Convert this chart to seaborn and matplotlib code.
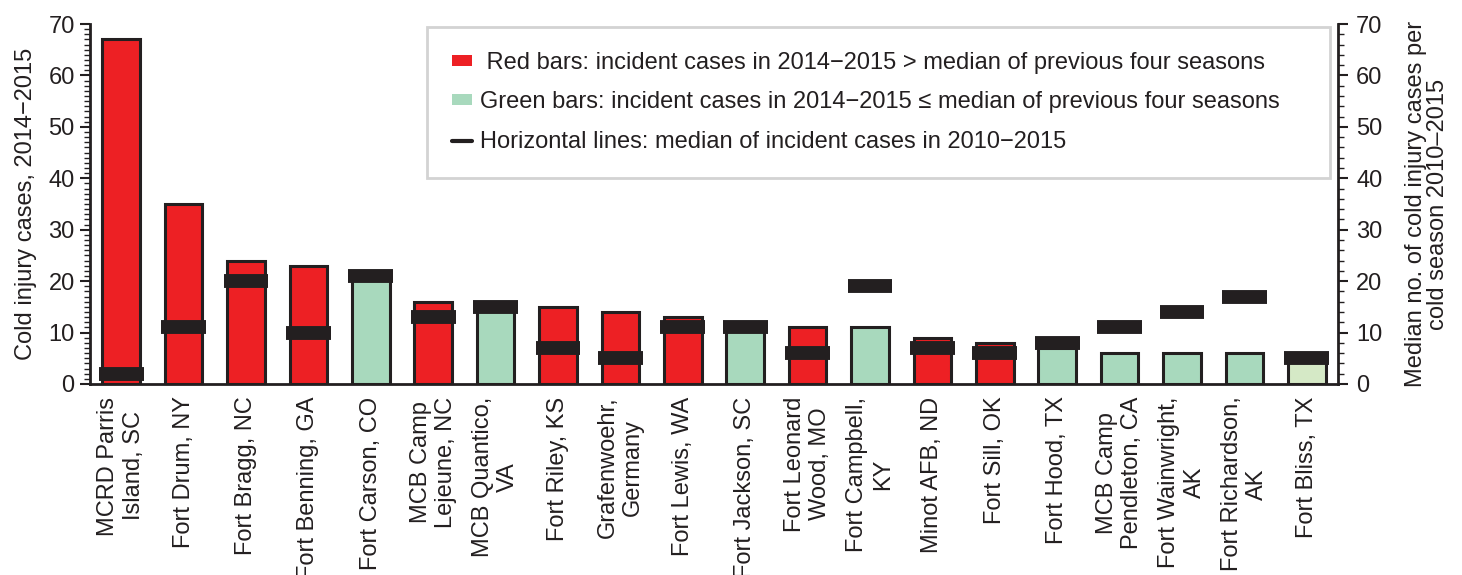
import numpy as np
import pandas as pd
import matplotlib
matplotlib.use('Agg')
import matplotlib.pyplot as plt
import seaborn as sns
from matplotlib.patches import Patch
from matplotlib.lines import Line2D
from matplotlib.ticker import MultipleLocator

# data
sites = ['MCRD Parris\nIsland, SC', 'Fort Drum, NY', 'Fort Bragg, NC', 'Fort Benning, GA',
         'Fort Carson, CO', 'MCB Camp\nLejeune, NC', 'MCB Quantico,\nVA', 'Fort Riley, KS',
         'Grafenwoehr,\nGermany', 'Fort Lewis, WA', 'Fort Jackson, SC', 'Fort Leonard\nWood, MO',
         'Fort Campbell,\nKY', 'Minot AFB, ND', 'Fort Sill, OK', 'Fort Hood, TX',
         'MCB Camp\nPendleton, CA', 'Fort Wainwright,\nAK', 'Fort Richardson,\nAK', 'Fort Bliss, TX']
cases_2014_15 = [67, 35, 24, 23, 21, 16, 15, 15, 14, 13, 11, 11, 11, 9, 8, 7, 6, 6, 6, 5]
median_2010_15 = [2, 11, 20, 10, 21, 13, 15, 7, 5, 11, 11, 6, 19, 7, 6, 8, 11, 14, 17, 5]
bar_group = ['red', 'red', 'red', 'red', 'green', 'red', 'green', 'red', 'red', 'red',
             'green', 'red', 'green', 'red', 'red', 'green', 'green', 'green', 'green', 'light']

RED = '#ED2024'
GREEN = '#A8D9BD'
LIGHT = '#D5E9C6'
DARK = '#231F20'
group_colors = {'red': RED, 'green': GREEN, 'light': LIGHT}

df = pd.DataFrame({'site': sites, 'cases': cases_2014_15,
                   'median': median_2010_15, 'group': bar_group})

sns.set_style('white')
plt.rcParams['font.family'] = ['Liberation Sans', 'DejaVu Sans']
fs = 17

fig = plt.figure(figsize=(14.62, 5.75), dpi=100)
ax = fig.add_axes([90 / 1462, 1 - 384 / 575, 1248 / 1462, 360 / 575])

sns.barplot(data=df, x='site', y='cases', hue='site',
            palette=[group_colors[g] for g in bar_group], legend=False, saturation=1,
            width=0.6, edgecolor=DARK, linewidth=2.2, ax=ax)

# median markers
xpos = np.arange(len(sites))
ax.hlines(df['median'], xpos - 0.36, xpos + 0.36, colors=DARK, linewidth=10, zorder=5)

ax.set_xlim(-0.5, len(sites) - 0.5)
ax.set_ylim(0, 70)
ax.set_xlabel('')
ax.set_ylabel('Cold injury cases, 2014\u22122015', fontsize=fs, color=DARK, labelpad=8)
ax.yaxis.set_major_locator(MultipleLocator(10))
ax.yaxis.set_minor_locator(MultipleLocator(1))
ax.tick_params(axis='y', which='major', direction='out', length=7, width=1.5,
               labelsize=fs, colors=DARK, left=True, pad=4)
ax.tick_params(axis='y', which='minor', direction='out', length=4, width=1, left=True, colors=DARK)
ax.tick_params(axis='x', length=0, pad=9)
ax.set_xticks(xpos)
ax.set_xticklabels(sites, rotation=90, fontsize=fs, color=DARK,
                   ha='center', va='top', multialignment='center')

for s in ['left', 'bottom']:
    ax.spines[s].set_color(DARK)
    ax.spines[s].set_linewidth(2)
ax.spines['top'].set_visible(False)
ax.spines['right'].set_visible(False)

ax2 = ax.twinx()
ax2.set_ylim(0, 70)
ax2.yaxis.set_major_locator(MultipleLocator(10))
ax2.yaxis.set_minor_locator(MultipleLocator(2))
ax2.tick_params(axis='y', which='major', direction='out', length=7, width=1.5,
                labelsize=fs, colors=DARK, right=True, pad=6)
ax2.tick_params(axis='y', which='minor', direction='out', length=4, width=1, right=True, colors=DARK)
ax2.set_ylabel('Median no. of cold injury cases per\ncold season 2010\u20132015',
               fontsize=fs, color=DARK, labelpad=16, linespacing=1.0)
for s in ['left', 'bottom', 'top']:
    ax2.spines[s].set_visible(False)
ax2.spines['right'].set_color(DARK)
ax2.spines['right'].set_linewidth(2)

handles = [Patch(facecolor=RED, edgecolor='none'),
           Patch(facecolor=GREEN, edgecolor='none'),
           Line2D([0], [0], color=DARK, linewidth=3)]
labels = [' Red bars: incident cases in 2014\u22122015 > median of previous four seasons',
          'Green bars: incident cases in 2014\u22122015 \u2264 median of previous four seasons',
          'Horizontal lines: median of incident cases in 2010\u22122015']
leg = ax.legend(handles, labels, loc='upper left', mode='expand',
                bbox_to_anchor=((427 - 90) / 1248, 0.992, (1330 - 427) / 1248, 0),
                fontsize=fs, frameon=True, fancybox=False, borderpad=1.05,
                labelspacing=0.75, handlelength=0.85, handleheight=0.35,
                handletextpad=0.35, borderaxespad=0)
leg.get_frame().set_edgecolor('#C8C8C8')
leg.get_frame().set_linewidth(2)
for t in leg.get_texts():
    t.set_color(DARK)

fig.savefig('out.png', dpi=100)
